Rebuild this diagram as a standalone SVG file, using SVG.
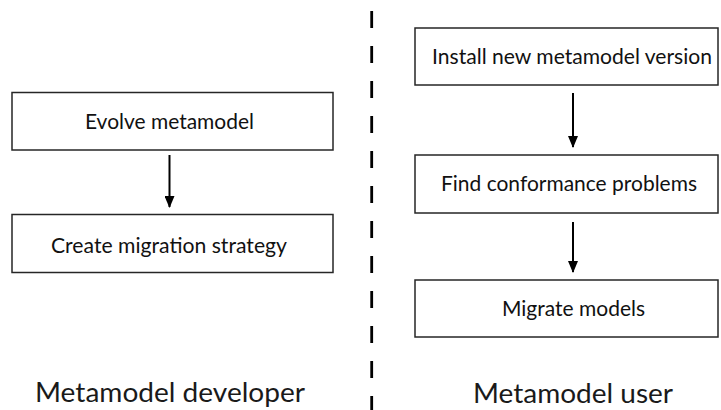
<svg xmlns="http://www.w3.org/2000/svg" width="721" height="410" viewBox="0 0 721 410">
  <style>
    .box { fill: #ffffff; stroke: #262626; stroke-width: 1.5; }
    .lbl { font-family: Lato, "Liberation Sans", sans-serif; font-size: 21px; fill: #111111; text-anchor: middle; }
    .role { font-family: Lato, "Liberation Sans", sans-serif; font-size: 27px; fill: #1a1a1a; text-anchor: middle; }
    .flow { stroke: #000000; stroke-width: 2; fill: none; marker-end: url(#head); }
    .divider { stroke: #000000; stroke-width: 2.8; stroke-dasharray: 17 18; }
  </style>
  <defs>
    <!-- filled triangular arrowhead, tip at the end of the line -->
    <marker id="head" viewBox="0 0 12 10" refX="11" refY="5" markerWidth="12" markerHeight="10" markerUnits="userSpaceOnUse" orient="auto">
      <path d="M0,0 L12,5 L0,10 Z" fill="#000000"/>
    </marker>
  </defs>
  <rect width="721" height="410" fill="#ffffff"/>

  <!-- dashed divider between the two roles -->
  <line class="divider" x1="371.7" y1="11" x2="371.7" y2="410"/>

  <!-- developer side -->
  <g id="evolve">
    <rect class="box" x="12" y="92.5" width="321" height="57.5"/>
    <text class="lbl" x="169.5" y="129" textLength="169" lengthAdjust="spacingAndGlyphs">Evolve metamodel</text>
  </g>
  <g id="strategy">
    <rect class="box" x="12" y="214.5" width="321" height="58"/>
    <text class="lbl" x="169" y="253" textLength="236" lengthAdjust="spacingAndGlyphs">Create migration strategy</text>
  </g>

  <!-- user side -->
  <g id="install">
    <rect class="box" x="415" y="28" width="303" height="57"/>
    <text class="lbl" x="572" y="64" textLength="280" lengthAdjust="spacingAndGlyphs">Install new metamodel version</text>
  </g>
  <g id="find">
    <rect class="box" x="415" y="155" width="303" height="58"/>
    <text class="lbl" x="569" y="191" textLength="256" lengthAdjust="spacingAndGlyphs">Find conformance problems</text>
  </g>
  <g id="migrate">
    <rect class="box" x="415" y="280" width="303" height="57"/>
    <text class="lbl" x="573.5" y="316" textLength="143" lengthAdjust="spacingAndGlyphs">Migrate models</text>
  </g>

  <!-- role captions -->
  <g id="developer">
    <text class="role" x="170" y="402" textLength="270" lengthAdjust="spacingAndGlyphs">Metamodel developer</text>
  </g>
  <g id="user">
    <text class="role" x="573" y="403" textLength="200" lengthAdjust="spacingAndGlyphs">Metamodel user</text>
  </g>

  <!-- connectors -->
  <g id="connectors">
    <line class="flow" x1="169.5" y1="155" x2="169.5" y2="207"/>
    <line class="flow" x1="573" y1="93" x2="573" y2="147"/>
    <line class="flow" x1="573" y1="222" x2="573" y2="272"/>
  </g>
</svg>
